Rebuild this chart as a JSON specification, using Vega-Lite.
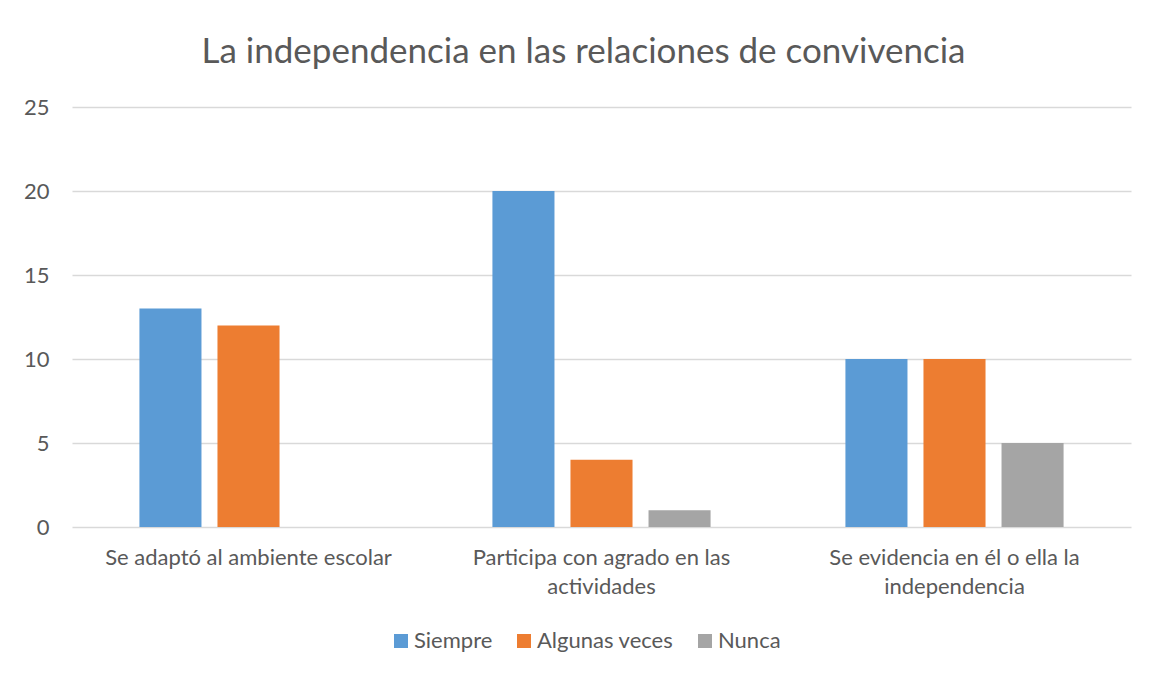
{
  "$schema": "https://vega.github.io/schema/vega-lite/v6.json",
  "width": 1059,
  "height": 420,
  "autosize": {"type": "none"},
  "padding": {"left": 72, "top": 107, "right": 26, "bottom": 150},
  "background": "white",
  "title": {
    "text": "La independencia en las relaciones de convivencia",
    "font": "Lato",
    "fontSize": 35,
    "fontWeight": "normal",
    "color": "#595959",
    "anchor": "middle",
    "frame": "group",
    "dx": -18,
    "offset": 26
  },
  "data": {
    "values": [
      {"categoria": "Se adaptó al ambiente escolar", "serie": "Siempre", "valor": 13},
      {"categoria": "Se adaptó al ambiente escolar", "serie": "Algunas veces", "valor": 12},
      {"categoria": "Se adaptó al ambiente escolar", "serie": "Nunca", "valor": 0},
      {"categoria": "Participa con agrado en las actividades", "serie": "Siempre", "valor": 20},
      {"categoria": "Participa con agrado en las actividades", "serie": "Algunas veces", "valor": 4},
      {"categoria": "Participa con agrado en las actividades", "serie": "Nunca", "valor": 1},
      {"categoria": "Se evidencia en él o ella la independencia", "serie": "Siempre", "valor": 10},
      {"categoria": "Se evidencia en él o ella la independencia", "serie": "Algunas veces", "valor": 10},
      {"categoria": "Se evidencia en él o ella la independencia", "serie": "Nunca", "valor": 5}
    ]
  },
  "mark": {"type": "bar"},
  "encoding": {
    "x": {
      "field": "categoria",
      "type": "nominal",
      "sort": null,
      "scale": {"paddingInner": 0.382, "paddingOuter": 0.191},
      "axis": {
        "title": null,
        "labelAngle": 0,
        "labelFont": "Lato",
        "labelFontSize": 22,
        "labelColor": "#595959",
        "labelPadding": 20,
        "labelLineHeight": 29,
        "labelLimit": 400,
        "ticks": false,
        "domain": false,
        "labelExpr": "datum.value == 'Participa con agrado en las actividades' ? ['Participa con agrado en las', 'actividades'] : datum.value == 'Se evidencia en él o ella la independencia' ? ['Se evidencia en él o ella la', 'independencia'] : datum.value"
      }
    },
    "xOffset": {
      "field": "serie",
      "type": "nominal",
      "sort": ["Siempre", "Algunas veces", "Nunca"],
      "scale": {"paddingInner": 0.205, "paddingOuter": 0}
    },
    "y": {
      "field": "valor",
      "type": "quantitative",
      "scale": {"domain": [0, 25]},
      "axis": {
        "title": null,
        "values": [0, 5, 10, 15, 20, 25],
        "labelFont": "Lato",
        "labelFontSize": 22,
        "labelColor": "#595959",
        "labelPadding": 23,
        "ticks": false,
        "domain": false,
        "gridColor": "#d9d9d9",
        "gridWidth": 1.5
      }
    },
    "color": {
      "field": "serie",
      "type": "nominal",
      "sort": ["Siempre", "Algunas veces", "Nunca"],
      "scale": {"domain": ["Siempre", "Algunas veces", "Nunca"], "range": ["#5b9bd5", "#ed7d31", "#a5a5a5"]},
      "legend": {
        "title": null,
        "orient": "none",
        "direction": "horizontal",
        "legendX": 318,
        "legendY": 523,
        "symbolType": "square",
        "symbolSize": 196,
        "symbolStrokeWidth": 0,
        "labelFont": "Lato",
        "labelFontSize": 22,
        "labelColor": "#595959",
        "labelOffset": 2,
        "columnPadding": 20
      }
    }
  },
  "config": {
    "view": {"stroke": null}
  }
}
